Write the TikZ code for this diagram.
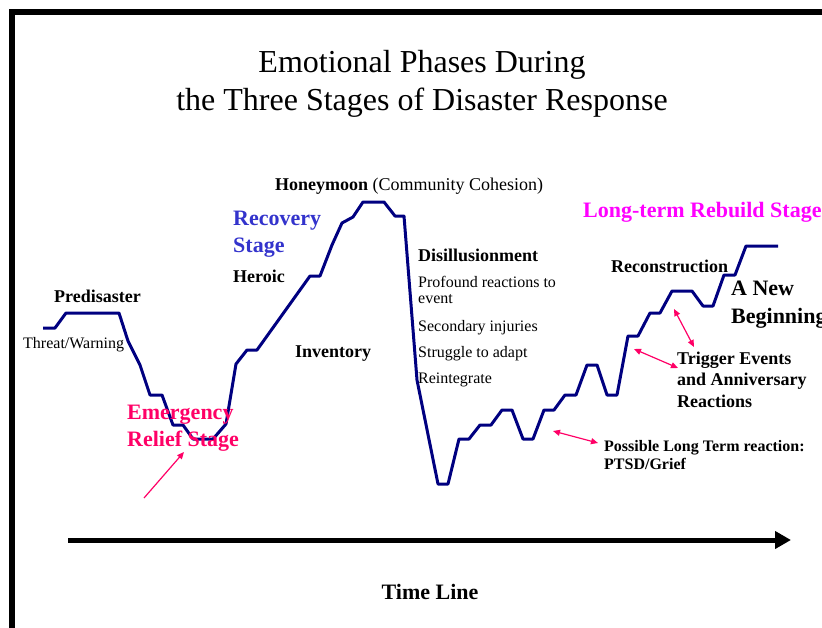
\documentclass[tikz,border=0pt]{standalone}
\usepackage{fontspec}
\setmainfont{Liberation Serif}
\usepackage{xcolor}
\usetikzlibrary{arrows.meta}
\definecolor{Navy}{RGB}{0,0,128}
\definecolor{HotPink}{RGB}{255,0,102}
\definecolor{Rebuild}{RGB}{255,0,255}
\definecolor{StageBlue}{RGB}{51,51,204}

\tikzset{
  txt/.style={inner sep=0pt, anchor=base west, align=left},
  phase/.style={txt, font=\fontsize{18pt}{21.5pt}\selectfont\bfseries},
  detail/.style={txt, font=\fontsize{16pt}{16pt}\selectfont},
  stage/.style={txt, font=\fontsize{22pt}{27pt}\selectfont\bfseries},
  feeling/.style={draw=Navy, line width=3pt, line join=round},
  pointer/.style={draw=HotPink, line width=1.2pt, -{Triangle[length=7pt,width=6pt]}},
  twoway/.style={pointer, {Triangle[length=7pt,width=6pt]}-{Triangle[length=7pt,width=6pt]}},
}

\begin{document}
\begin{tikzpicture}[x=1pt, y=-1pt]
    \useasboundingbox (0,0) rectangle (822,627);
    % frame
    \draw[line width=5.5pt] (12,640) -- (12,12) -- (840,12);

    % title (base = last line)
    \node[inner sep=0pt, anchor=base, align=center,
          font=\fontsize{32pt}{38pt}\selectfont] (title) at (422,110)
        {Emotional Phases During\\the Three Stages of Disaster Response};

    % the curve
    \draw[feeling] (43,328) -- (55,328) -- (66,313) -- (119,313) -- (128,341)
        -- (140,365) -- (150,395) -- (162,395) -- (173,425) -- (183,425)
        -- (193,439) -- (213,439) -- (226,424) -- (236,364) -- (247,350)
        -- (257,350) -- (310,276) -- (320,276) -- (332,245) -- (342,223)
        -- (353,217) -- (363,202) -- (384,202) -- (395,216) -- (404,216)
        -- (417,380) -- (438,484) -- (448,484) -- (459,439) -- (469,439)
        -- (480,425) -- (491,425) -- (502,410) -- (512,410) -- (523,439)
        -- (533,439) -- (544,410) -- (554,410) -- (565,395) -- (576,395)
        -- (587,365) -- (597,365) -- (607,395) -- (617,395) -- (628,336)
        -- (638,336) -- (650,313) -- (660,313) -- (672,291) -- (692,291)
        -- (703,306) -- (713,306) -- (724,275) -- (735,275) -- (746,246)
        -- (778,246);

    % phases
    \node[phase] (predisaster) at (54,302) {Predisaster};
    \node[detail] (threat) at (23,348) {Threat/Warning};
    \node[stage, text=HotPink] (emergency) at (127,446) {Emergency\\Relief Stage};
    \node[stage, text=StageBlue] (recovery) at (233,252) {Recovery\\Stage};
    \node[phase] (heroic) at (233,282) {Heroic};
    \node[phase] (inventory) at (295,357) {Inventory};
    \node[txt, font=\fontsize{18pt}{21pt}\selectfont] (honeymoon) at (275,190)
        {\textbf{Honeymoon} (Community Cohesion)};
    \node[phase] (disillusion) at (418,261) {Disillusionment};
    \node[detail] (profound) at (418,303) {Profound reactions to\\event};
    \node[detail] (secondary) at (418,331) {Secondary injuries};
    \node[detail] (struggle) at (418,357) {Struggle to adapt};
    \node[detail] (reintegrate) at (418,383) {Reintegrate};
    \node[stage, text=Rebuild] (rebuild) at (583,217) {Long-term Rebuild Stage};
    \node[phase] (reconstruction) at (611,272) {Reconstruction};
    \node[stage, font=\fontsize{22pt}{28pt}\selectfont\bfseries] (newstart) at (731,323)
        {A New\\Beginning};
    \node[phase] (trigger) at (677,407) {Trigger Events\\and Anniversary\\Reactions};
    \node[txt, font=\fontsize{16pt}{18pt}\selectfont\bfseries] (ptsd) at (604,469)
        {Possible Long Term reaction:\\PTSD/Grief};

    % pink pointers
    \coordinate (erTail) at (144,498);
    \coordinate (erTip) at (184,452);
    \coordinate (ptsdA) at (553,431);
    \coordinate (ptsdB) at (598,443);
    \coordinate (trigA) at (634,349);
    \coordinate (trigB) at (678,368);
    \coordinate (trigC) at (674,309);
    \coordinate (trigD) at (694,347);
    \draw[pointer] (erTail) -- (erTip);
    \draw[twoway] (ptsdA) -- (ptsdB);
    \draw[twoway] (trigA) -- (trigB);
    \draw[twoway] (trigC) -- (trigD);

    % time line
    \coordinate (tStart) at (68,540);
    \coordinate (tEnd) at (791,540);
    \draw[line width=5pt, -{Triangle[length=16pt,width=17pt]}] (tStart) -- (tEnd);
    \node[inner sep=0pt, anchor=base, font=\fontsize{22pt}{26pt}\selectfont\bfseries]
        (timeline) at (430,599) {Time Line};
\end{tikzpicture}
\end{document}
